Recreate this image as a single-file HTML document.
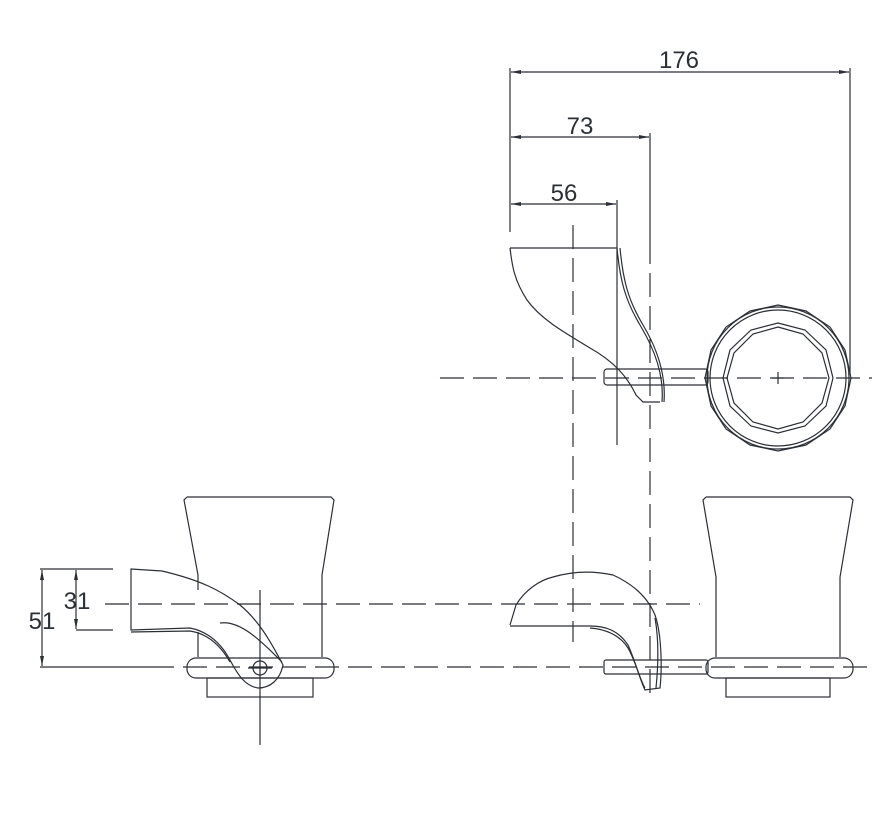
<!DOCTYPE html>
<html><head><style>body{margin:0;background:#fff}svg{display:block}</style></head><body>
<svg width="891" height="822" viewBox="0 0 891 822" xmlns="http://www.w3.org/2000/svg" fill="none" stroke="#2b2f36" stroke-width="1.2" font-family="Liberation Sans, sans-serif">
<defs><marker id="a" viewBox="0 0 10 4" refX="10" refY="2" markerWidth="10" markerHeight="4" orient="auto-start-reverse" markerUnits="userSpaceOnUse"><path d="M0,0 L10,2 L0,4z" fill="#2b2f36" stroke="none"/></marker></defs>
<line x1="510" y1="68" x2="510" y2="232"/>
<line x1="850" y1="68" x2="850" y2="375"/>
<line x1="650" y1="133" x2="650" y2="240"/>
<line x1="617" y1="200" x2="617" y2="445"/>
<line x1="511" y1="72" x2="849" y2="72" marker-start="url(#a)" marker-end="url(#a)"/>
<line x1="511" y1="137" x2="649" y2="137" marker-start="url(#a)" marker-end="url(#a)"/>
<line x1="511" y1="204" x2="616" y2="204" marker-start="url(#a)" marker-end="url(#a)"/>
<g fill="#2b2f36" stroke="none" font-size="24"><text x="679" y="68" text-anchor="middle">176</text><text x="580" y="134" text-anchor="middle">73</text><text x="564" y="201" text-anchor="middle">56</text></g>
<g stroke-dasharray="24,9">
<line x1="573" y1="225" x2="573" y2="642"/>
<line x1="650" y1="240" x2="650" y2="702"/>
<line x1="440" y1="378" x2="872" y2="378"/>
<line x1="105" y1="604" x2="700" y2="604"/>
<line x1="150" y1="667" x2="872" y2="667"/>
</g>
<path d="M510,248 L617,248 M510,248 C512,265 514,280 527,300 C540,318 560,330 590,348 C615,362 628,378 636,395 L643,402 L660,402 M617,248 C620,280 625,300 640,325 C655,350 664,375 662,402"/>
<path d="M620,248 C623,280 628,300 643,325 C658,350 666,375 664,402"/>
<rect x="604" y="369" width="104" height="16" rx="3"/>
<g transform="translate(778,378)">
<polygon points="0,-73 28,-67 52,-51 67,-28 73,0 67,28 52,51 28,67 0,73 -28,67 -52,51 -67,28 -73,0 -67,-28 -52,-51 -28,-67"/>
<circle r="71"/><circle r="68"/>
<polygon points="0,-55 27,-48 48,-28 55,0 48,28 27,48 0,55 -27,48 -48,28 -55,0 -48,-28 -27,-48"/>
<polygon points="0,-51 25,-44 44,-25 51,0 44,25 25,44 0,51 -25,44 -44,25 -51,0 -44,-25 -25,-44"/>
<line x1="-6" y1="0" x2="6" y2="0"/><line x1="0" y1="-6" x2="0" y2="6"/>
</g>
<path d="M187,497 L331,497 L334,500 L322,575 L322,657 M187,497 L184,500 L198,575"/>
<path d="M198,575 L198,590 M198,632 L198,657"/>
<rect x="187" y="658" width="147" height="20" rx="9"/>
<rect x="207" y="678" width="106" height="19"/>
<path d="M131,569 L162,571 C200,580 220,590 240,605 C258,620 270,640 283,665 C280,680 270,688 258,688 C245,686 238,675 230,660 C222,645 210,632 190,628 L131,630 Z"/>
<path d="M131,632 L190,631 C210,634 222,648 230,662 M220,623 C240,620 260,640 282,662"/>
<circle cx="260" cy="668" r="7"/>
<line x1="260" y1="590" x2="260" y2="745"/>
<line x1="248" y1="668" x2="272" y2="668"/>
<line x1="40" y1="569" x2="113" y2="569"/>
<line x1="76" y1="630" x2="113" y2="630"/>
<line x1="40" y1="667" x2="150" y2="667"/>
<line x1="42" y1="570" x2="42" y2="666" marker-start="url(#a)" marker-end="url(#a)"/>
<line x1="76" y1="570" x2="76" y2="629" marker-start="url(#a)" marker-end="url(#a)"/>
<g fill="#2b2f36" stroke="none" font-size="24"><text x="42" y="629" text-anchor="middle">51</text><text x="77" y="609" text-anchor="middle">31</text></g>
<path d="M510,625 L516,605 C525,590 540,580 553,577 C570,572 590,570 613,575 C635,585 648,598 655,615 C662,635 662,670 660,688 L645,690 C640,680 635,660 628,645 C618,630 605,626 590,626 L510,626"/>
<path d="M590,628 C605,629 620,635 628,648 C636,662 640,680 645,688 M655,618 C659,640 658,668 656,688"/>
<rect x="604" y="660" width="104" height="14" rx="2"/>
<path d="M706,497 L850,497 L853,500 L840,577 L840,657 M706,497 L703,500 L716,577 L716,657"/>
<rect x="706" y="658" width="147" height="20" rx="9"/>
<rect x="726" y="678" width="104" height="19"/>
</svg>
</body></html>
